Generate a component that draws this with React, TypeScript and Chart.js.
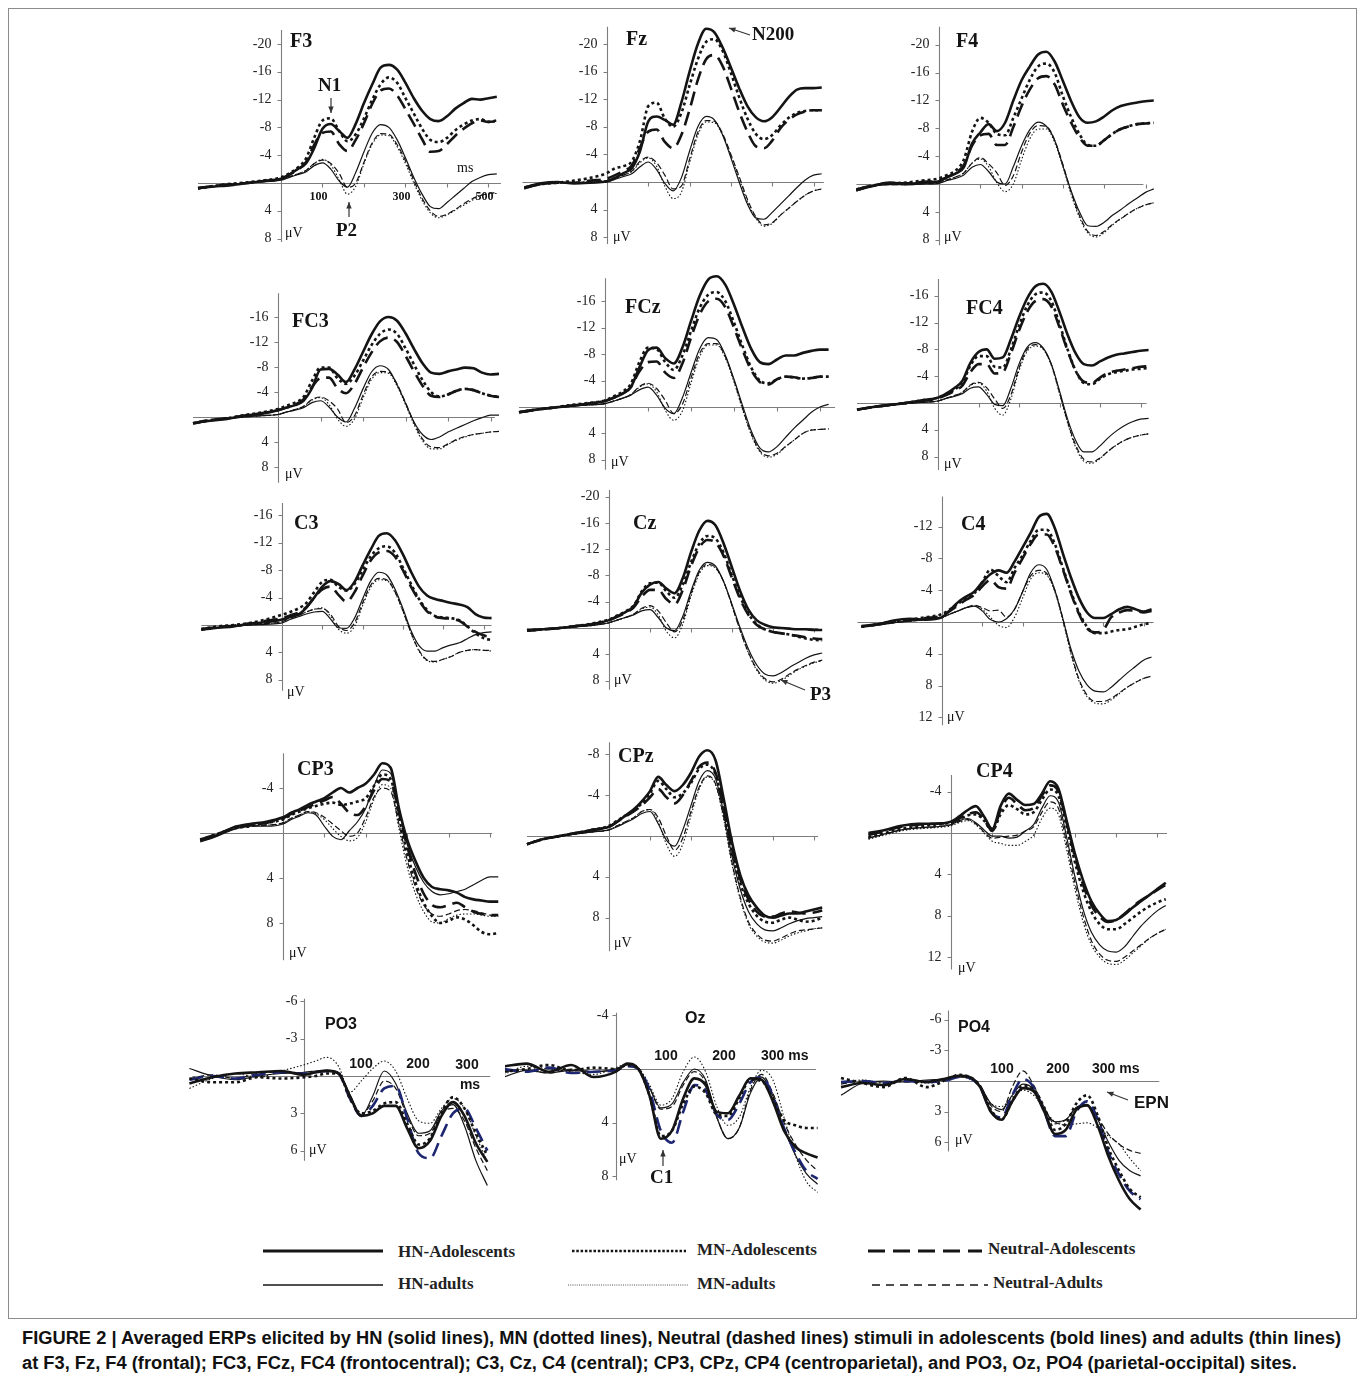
import React, { useEffect, useRef } from "react";
import { Chart, registerables } from "chart.js";

Chart.register(...registerables);

// ---------- time axes (ms) ----------
const TIME_MAIN = [-200, -160, -120, -80, -40, 0, 20, 40, 60, 80, 100, 120, 140, 160, 180, 200, 220, 240, 260, 280, 300, 320, 340, 360, 380, 400, 420, 440, 460, 480, 500, 520];
const TIME_PO3 = [-200, -160, -120, -80, -40, 0, 20, 40, 60, 80, 100, 120, 140, 160, 180, 200, 220, 240, 260, 280, 300, 320];
const TIME_OCC = [-200, -160, -120, -80, -40, 0, 20, 40, 60, 80, 100, 120, 140, 160, 180, 200, 220, 240, 260, 280, 300, 320, 340, 360];

const SERIES_NAMES = ["HN-Adolescents", "MN-Adolescents", "Neutral-Adolescents", "HN-adults", "MN-adults", "Neutral-Adults"];

// ---------- tick labels ----------
const TICKS_F = [-20, -16, -12, -8, -4, 4, 8];
const TICKS_FC = [-16, -12, -8, -4, 4, 8];
const TICKS_C4 = [-12, -8, -4, 4, 8, 12];
const TICKS_CP3 = [-4, 4, 8];
const TICKS_CPZ = [-8, -4, 4, 8];
const TICKS_CP4 = [-4, 4, 8, 12];
const TICKS_PO = [-6, -3, 3, 6];
const TICKS_OZ = [-4, 4, 8];
const XMARKS_MAIN = [100, 200, 300, 400, 500];
const XLABELS_F3 = [100, 300, 500];
const XLABELS_OCC = [100, 200, 300];

// ---------- F3 ----------
const F3_HN_ADO = [0.7, 0.5, 0.3, 0.0, -0.3, -0.6, -1.2, -2.0, -2.8, -5.0, -7.8, -8.5, -7.5, -6.5, -8.5, -11.5, -14.2, -16.6, -17.0, -16.3, -14.4, -12.2, -10.4, -9.2, -8.9, -9.6, -10.7, -11.5, -12.1, -12.0, -12.2, -12.4];
const F3_MN_ADO = [0.8, 0.4, 0.1, -0.1, -0.4, -0.8, -1.4, -2.2, -3.5, -6.5, -9.0, -9.3, -7.5, -6.0, -7.0, -9.3, -12.0, -14.2, -15.2, -14.4, -12.2, -10.0, -7.8, -6.2, -5.9, -6.5, -7.6, -8.4, -9.0, -9.2, -8.8, -9.0];
const F3_NE_ADO = [0.8, 0.4, 0.2, 0.0, -0.3, -0.6, -1.2, -1.9, -3.0, -5.5, -7.2, -7.4, -5.6, -4.6, -6.2, -8.6, -11.4, -13.3, -13.6, -12.6, -10.6, -8.5, -6.3, -4.5, -4.6, -5.6, -6.8, -7.8, -8.6, -9.0, -8.8, -8.9];
const F3_HN_ADU = [0.8, 0.5, 0.2, 0.0, -0.2, -0.4, -0.8, -1.2, -1.6, -2.5, -2.9, -2.0, -0.3, 0.6, -1.5, -4.5, -7.2, -8.4, -8.0, -6.2, -3.6, -0.8, 1.6, 3.4, 3.7, 2.8, 1.8, 0.8, -0.2, -0.8, -1.2, -1.3];
const F3_MN_ADU = [0.8, 0.5, 0.2, 0.0, -0.3, -0.5, -0.9, -1.3, -1.8, -2.8, -3.4, -2.6, -0.5, 1.6, 0.5, -2.8, -5.6, -6.9, -6.8, -5.2, -2.8, 0.0, 2.5, 4.3, 5.0, 4.6, 3.9, 3.2, 2.5, 1.8, 1.6, 1.5];
const F3_NE_ADU = [0.8, 0.5, 0.2, 0.0, -0.3, -0.5, -0.9, -1.3, -1.8, -2.8, -3.3, -2.8, -1.4, 0.6, 0.0, -3.0, -5.8, -7.1, -7.0, -5.5, -3.2, -0.4, 2.2, 4.0, 4.8, 4.5, 3.8, 3.0, 2.3, 1.8, 1.5, 1.4];

// ---------- Fz ----------
const FZ_HN_ADO = [0.8, 0.2, 0.0, 0.2, 0.1, -0.1, -0.6, -1.3, -2.0, -4.5, -8.8, -9.5, -9.0, -8.3, -11.5, -16.0, -20.0, -22.2, -21.7, -19.5, -16.6, -13.6, -11.0, -9.4, -8.8, -9.4, -10.8, -12.3, -13.4, -13.6, -13.6, -13.7];
const FZ_MN_ADO = [0.8, 0.3, 0.1, -0.2, -0.6, -1.3, -2.0, -2.3, -3.0, -6.0, -11.0, -11.5, -9.2, -8.0, -10.0, -14.0, -17.8, -20.3, -20.7, -19.0, -15.8, -12.3, -9.2, -7.0, -6.2, -6.8, -8.2, -9.3, -10.0, -10.3, -10.4, -10.4];
const FZ_NE_ADO = [0.8, 0.3, 0.1, 0.1, -0.2, -0.5, -1.0, -1.6, -2.4, -5.0, -7.3, -7.6, -5.8, -4.9, -6.8, -10.5, -14.8, -17.8, -18.4, -16.8, -13.6, -10.2, -7.3, -5.2, -4.9, -6.0, -7.8, -9.0, -9.8, -10.2, -10.4, -10.4];
const FZ_HN_ADU = [1.0, 0.4, 0.1, 0.2, 0.1, 0.0, -0.4, -0.8, -1.2, -2.2, -2.9, -1.8, 0.2, 1.3, -0.6, -4.5, -8.0, -9.5, -9.0, -6.8, -3.5, 0.0, 3.2, 5.2, 5.4, 4.4, 3.2, 2.0, 0.8, -0.3, -1.0, -1.2];
const FZ_MN_ADU = [1.0, 0.3, 0.0, 0.1, -0.1, -0.2, -0.6, -1.0, -1.5, -2.8, -3.5, -2.3, 0.6, 2.4, 1.5, -2.8, -6.8, -8.7, -8.6, -6.8, -3.8, -0.5, 2.8, 5.2, 6.4, 6.0, 4.8, 3.8, 2.8, 1.9, 1.3, 1.0];
const FZ_NE_ADU = [0.9, 0.3, 0.1, 0.1, -0.1, -0.2, -0.6, -1.0, -1.6, -3.0, -3.6, -2.8, -1.0, 1.0, 0.6, -3.3, -7.2, -8.9, -8.8, -7.0, -4.0, -0.8, 2.5, 5.0, 6.2, 5.9, 4.8, 3.8, 2.8, 1.9, 1.3, 1.0];

// ---------- F4 ----------
const F4_HN_ADO = [0.9, 0.3, -0.2, 0.0, -0.2, -0.4, -1.0, -1.5, -2.4, -5.8, -7.4, -8.6, -7.6, -8.8, -12.0, -14.9, -16.9, -18.6, -19.0, -17.6, -14.8, -11.9, -9.6, -8.8, -9.0, -9.7, -10.6, -11.2, -11.5, -11.7, -11.9, -12.0];
const F4_MN_ADO = [0.8, 0.2, -0.1, -0.2, -0.5, -0.8, -1.3, -1.9, -3.5, -7.5, -9.5, -8.8, -7.2, -7.0, -9.5, -12.3, -15.0, -16.9, -17.3, -16.0, -12.6, -9.6, -7.2, -5.6, -5.5, -6.3, -7.2, -7.9, -8.3, -8.6, -8.7, -8.8];
const F4_NE_ADO = [0.8, 0.2, -0.1, -0.1, -0.3, -0.5, -1.0, -1.6, -2.7, -5.5, -7.0, -7.2, -5.6, -5.6, -8.2, -11.2, -13.6, -15.2, -15.5, -14.3, -11.4, -8.8, -6.7, -5.5, -5.5, -6.3, -7.2, -7.9, -8.3, -8.6, -8.7, -8.8];
const F4_HN_ADU = [1.0, 0.3, 0.1, 0.1, 0.0, -0.1, -0.5, -0.8, -1.3, -2.4, -2.8, -1.8, -0.3, 0.0, -2.5, -5.5, -7.8, -8.9, -8.3, -6.3, -2.6, 1.0, 4.0, 6.0, 6.1, 5.5, 4.5, 3.7, 2.8, 2.0, 1.2, 0.7];
const F4_MN_ADU = [1.0, 0.3, 0.0, 0.1, -0.1, -0.2, -0.6, -1.0, -1.6, -3.0, -3.6, -2.5, -0.2, 1.1, 0.0, -3.5, -6.5, -7.9, -7.9, -6.0, -2.5, 1.5, 4.8, 7.0, 7.6, 7.0, 5.9, 5.0, 4.2, 3.5, 3.0, 2.7];
const F4_NE_ADU = [0.9, 0.3, 0.1, 0.1, 0.0, -0.2, -0.6, -1.0, -1.6, -3.0, -3.8, -2.9, -1.6, 0.2, -1.2, -4.6, -7.3, -8.4, -8.3, -6.3, -2.8, 1.2, 4.5, 6.8, 7.4, 6.8, 5.8, 5.0, 4.2, 3.5, 3.0, 2.7];

// ---------- FC3 ----------
const FC3_HN_ADO = [1.0, 0.6, 0.3, -0.2, -0.5, -1.1, -1.5, -1.9, -2.6, -4.6, -7.6, -7.7, -6.8, -5.6, -7.6, -10.4, -13.2, -15.3, -16.0, -15.4, -13.4, -10.9, -8.6, -7.1, -6.9, -7.3, -7.6, -7.9, -7.8, -7.1, -6.8, -6.9];
const FC3_MN_ADO = [1.0, 0.5, 0.2, -0.3, -0.7, -1.3, -1.8, -2.3, -3.2, -5.8, -7.9, -7.9, -6.2, -5.3, -6.6, -9.0, -11.5, -13.3, -14.0, -13.3, -11.0, -8.4, -5.9, -4.0, -3.3, -3.6, -4.2, -4.5, -4.3, -3.8, -3.4, -3.2];
const FC3_NE_ADO = [1.0, 0.5, 0.2, -0.2, -0.6, -1.1, -1.5, -2.0, -2.8, -4.8, -6.2, -6.3, -4.6, -3.8, -5.3, -7.9, -10.3, -12.1, -12.7, -12.0, -9.8, -7.3, -5.0, -3.4, -3.2, -3.6, -4.2, -4.5, -4.3, -3.8, -3.4, -3.2];
const FC3_HN_ADU = [1.0, 0.6, 0.3, 0.0, -0.2, -0.4, -0.8, -1.1, -1.5, -2.3, -2.6, -1.6, 0.0, 0.8, -1.4, -4.5, -7.2, -8.2, -7.6, -5.2, -2.2, 0.8, 2.8, 3.6, 3.2, 2.4, 1.8, 1.2, 0.6, 0.1, -0.3, -0.3];
const FC3_MN_ADU = [1.0, 0.6, 0.3, 0.0, -0.2, -0.4, -0.8, -1.2, -1.7, -2.7, -3.1, -2.0, 0.3, 1.5, 0.3, -3.0, -6.0, -7.1, -7.0, -5.0, -2.0, 1.2, 3.8, 5.1, 5.1, 4.4, 3.7, 3.2, 2.8, 2.6, 2.4, 2.3];
const FC3_NE_ADU = [1.0, 0.6, 0.3, 0.0, -0.2, -0.4, -0.8, -1.2, -1.7, -2.8, -3.2, -2.6, -1.3, 0.9, -0.2, -3.5, -6.4, -7.3, -7.2, -5.3, -2.3, 0.9, 3.5, 4.8, 4.9, 4.3, 3.6, 3.1, 2.8, 2.6, 2.4, 2.3];

// ---------- FCz ----------
const FCZ_HN_ADO = [0.8, 0.4, 0.1, -0.2, -0.5, -0.9, -1.4, -2.0, -3.0, -6.0, -8.6, -9.0, -7.4, -6.6, -9.0, -13.0, -16.8, -19.3, -19.8, -18.5, -15.5, -12.0, -8.8, -6.8, -6.5, -7.2, -7.8, -7.8, -8.2, -8.5, -8.7, -8.7];
const FCZ_MN_ADO = [0.8, 0.4, 0.1, -0.3, -0.6, -1.0, -1.6, -2.3, -3.5, -6.8, -9.0, -8.8, -6.8, -5.6, -7.8, -11.5, -15.0, -17.0, -17.4, -16.0, -12.8, -9.2, -6.0, -4.0, -3.6, -4.2, -4.6, -4.5, -4.3, -4.4, -4.6, -4.6];
const FCZ_NE_ADO = [0.8, 0.4, 0.1, -0.2, -0.5, -0.9, -1.4, -2.0, -3.0, -5.4, -6.8, -6.9, -5.2, -4.4, -6.6, -10.5, -14.0, -16.0, -16.4, -15.1, -12.0, -8.6, -5.6, -3.8, -3.4, -4.2, -4.6, -4.5, -4.3, -4.4, -4.6, -4.6];
const FCZ_HN_ADU = [0.8, 0.4, 0.1, -0.1, -0.3, -0.5, -0.9, -1.3, -1.8, -2.6, -3.0, -1.8, 0.2, 1.0, -1.4, -5.2, -8.8, -10.5, -10.2, -7.8, -4.2, -0.2, 3.6, 6.2, 6.8, 6.0, 4.6, 3.2, 2.0, 0.8, 0.0, -0.4];
const FCZ_MN_ADU = [0.8, 0.4, 0.1, -0.1, -0.3, -0.5, -0.9, -1.3, -1.9, -3.0, -3.5, -2.3, 0.5, 2.0, 0.6, -3.6, -7.6, -9.4, -9.4, -7.4, -3.8, 0.4, 4.2, 6.8, 7.6, 7.2, 6.0, 5.0, 4.0, 3.5, 3.4, 3.3];
const FCZ_NE_ADU = [0.8, 0.4, 0.1, -0.1, -0.3, -0.5, -0.9, -1.3, -1.9, -3.1, -3.6, -2.8, -1.0, 1.0, -0.4, -4.4, -8.1, -9.6, -9.6, -7.6, -4.0, 0.2, 4.0, 6.6, 7.4, 7.0, 6.0, 5.0, 4.0, 3.5, 3.4, 3.3];

// ---------- FC4 ----------
const FC4_HN_ADO = [1.0, 0.6, 0.3, 0.0, -0.4, -0.8, -1.4, -2.2, -3.3, -6.0, -7.6, -8.0, -6.6, -6.8, -9.5, -12.8, -15.6, -17.4, -17.8, -16.6, -13.6, -10.2, -7.4, -5.8, -5.6, -6.2, -6.8, -7.2, -7.4, -7.6, -7.8, -7.9];
const FC4_MN_ADO = [1.0, 0.6, 0.3, 0.0, -0.4, -0.8, -1.3, -2.0, -3.0, -5.6, -7.0, -7.0, -5.4, -5.3, -8.0, -11.5, -14.5, -16.2, -16.5, -15.2, -11.8, -8.0, -4.8, -3.0, -2.8, -3.6, -4.3, -4.6, -4.8, -5.0, -5.1, -5.2];
const FC4_NE_ADO = [1.0, 0.6, 0.3, 0.0, -0.3, -0.7, -1.2, -1.8, -2.6, -4.6, -5.8, -5.8, -4.4, -4.6, -7.4, -10.8, -13.6, -15.2, -15.5, -14.4, -11.3, -7.8, -4.8, -3.2, -3.0, -3.8, -4.5, -4.8, -5.0, -5.2, -5.4, -5.5];
const FC4_HN_ADU = [1.0, 0.6, 0.3, 0.1, -0.1, -0.3, -0.7, -1.0, -1.4, -2.2, -2.4, -1.3, 0.2, 0.4, -2.2, -5.8, -8.3, -9.0, -8.2, -5.8, -1.8, 2.4, 5.6, 7.3, 7.3, 6.4, 5.2, 4.2, 3.4, 2.8, 2.4, 2.3];
const FC4_MN_ADU = [1.0, 0.6, 0.3, 0.1, -0.1, -0.3, -0.7, -1.1, -1.6, -2.6, -3.0, -1.8, 0.8, 1.8, -0.6, -4.8, -7.7, -8.5, -8.0, -5.6, -1.4, 3.0, 6.6, 8.7, 9.0, 8.3, 7.2, 6.3, 5.6, 5.1, 4.8, 4.6];
const FC4_NE_ADU = [1.0, 0.6, 0.3, 0.1, -0.1, -0.3, -0.7, -1.1, -1.6, -2.7, -3.1, -2.3, -0.6, 0.8, -1.2, -5.2, -8.0, -8.7, -8.1, -5.7, -1.6, 2.8, 6.3, 8.4, 8.8, 8.2, 7.2, 6.3, 5.6, 5.1, 4.8, 4.6];

// ---------- C3 ----------
const C3_HN_ADO = [0.7, 0.4, 0.2, -0.2, -0.4, -0.8, -1.2, -1.5, -2.5, -4.0, -5.6, -6.4, -6.0, -5.1, -6.3, -8.7, -11.0, -13.0, -13.4, -12.4, -10.3, -7.8, -5.6, -4.3, -3.8, -3.5, -3.2, -3.0, -2.6, -1.6, -1.1, -1.0];
const C3_MN_ADO = [0.6, 0.2, 0.0, -0.3, -0.8, -1.5, -1.9, -2.4, -3.2, -4.8, -6.3, -6.6, -5.6, -5.0, -6.0, -8.0, -10.0, -11.2, -11.5, -10.6, -8.4, -6.0, -3.8, -2.2, -1.3, -1.1, -1.0, -0.7, 0.2, 1.2, 1.9, 2.2];
const C3_NE_ADO = [0.6, 0.3, 0.1, -0.2, -0.6, -1.0, -1.4, -1.8, -2.6, -4.0, -5.2, -5.6, -4.4, -3.4, -4.8, -7.2, -9.4, -10.6, -10.8, -10.0, -8.0, -5.6, -3.6, -2.0, -1.2, -1.0, -0.9, -0.6, 0.2, 1.0, 1.5, 1.8];
const C3_HN_ADU = [0.7, 0.4, 0.2, 0.0, -0.1, -0.3, -0.8, -1.2, -1.6, -1.9, -2.0, -0.9, 0.4, 0.5, -1.0, -3.8, -6.4, -7.7, -7.3, -5.3, -2.4, 0.8, 3.0, 3.8, 3.8, 3.3, 2.9, 2.6, 2.0, 1.4, 1.1, 1.0];
const C3_MN_ADU = [0.7, 0.4, 0.2, 0.0, -0.2, -0.5, -1.0, -1.4, -1.9, -2.3, -2.5, -1.3, 0.6, 1.2, 0.2, -2.8, -5.5, -6.6, -6.5, -4.8, -2.0, 1.2, 3.8, 5.2, 5.4, 5.0, 4.6, 4.0, 3.7, 3.6, 3.7, 3.8];
const C3_NE_ADU = [0.7, 0.4, 0.2, 0.0, -0.2, -0.5, -1.0, -1.4, -1.9, -2.3, -2.4, -1.6, 0.2, 0.8, -0.3, -3.2, -5.8, -6.8, -6.6, -4.9, -2.1, 1.1, 3.7, 5.1, 5.3, 5.0, 4.6, 4.0, 3.7, 3.6, 3.7, 3.7];

// ---------- Cz ----------
const CZ_HN_ADO = [0.4, 0.2, 0.0, -0.3, -0.6, -1.2, -1.8, -2.4, -3.3, -5.4, -6.6, -7.0, -6.0, -5.3, -7.6, -11.5, -14.8, -16.3, -15.6, -12.8, -9.2, -5.6, -2.8, -1.2, -0.5, -0.1, 0.0, 0.1, 0.2, 0.2, 0.3, 0.3];
const CZ_MN_ADO = [0.4, 0.2, 0.0, -0.3, -0.7, -1.3, -1.9, -2.5, -3.4, -5.6, -6.8, -6.9, -5.6, -4.6, -6.6, -10.0, -12.8, -14.0, -13.6, -11.4, -8.0, -4.8, -2.2, -0.6, 0.2, 0.6, 0.8, 1.0, 1.3, 1.6, 1.8, 1.9];
const CZ_NE_ADO = [0.4, 0.2, 0.0, -0.3, -0.6, -1.2, -1.7, -2.3, -3.1, -4.8, -5.8, -5.8, -4.4, -3.6, -5.8, -9.4, -12.2, -13.4, -13.0, -10.9, -7.6, -4.4, -2.0, -0.5, 0.2, 0.6, 0.8, 1.0, 1.2, 1.4, 1.6, 1.7];
const CZ_HN_ADU = [0.4, 0.2, 0.0, -0.2, -0.4, -0.8, -1.2, -1.6, -2.0, -2.6, -2.8, -1.6, 0.0, 0.4, -1.8, -5.6, -8.8, -10.0, -9.4, -7.0, -3.6, 0.0, 3.2, 5.6, 7.0, 7.3, 6.8, 6.0, 5.3, 4.6, 4.1, 3.8];
const CZ_MN_ADU = [0.4, 0.2, 0.0, -0.2, -0.4, -0.8, -1.2, -1.6, -2.1, -2.9, -3.2, -2.0, 0.5, 1.5, -0.6, -4.8, -8.2, -9.5, -9.1, -7.0, -3.4, 0.4, 3.8, 6.4, 7.9, 8.4, 8.0, 7.2, 6.4, 5.8, 5.3, 5.0];
const CZ_NE_ADU = [0.4, 0.2, 0.0, -0.2, -0.4, -0.8, -1.2, -1.6, -2.1, -3.0, -3.4, -2.6, -0.8, 0.6, -1.2, -5.2, -8.5, -9.7, -9.2, -7.0, -3.4, 0.4, 3.7, 6.2, 7.7, 8.2, 7.8, 7.0, 6.3, 5.7, 5.2, 4.9];

// ---------- C4 ----------
const C4_HN_ADO = [0.5, 0.3, -0.2, -0.4, -0.3, -0.6, -1.5, -2.5, -3.2, -3.8, -5.0, -6.0, -6.5, -6.2, -7.6, -9.4, -11.2, -13.2, -13.6, -11.8, -8.6, -5.6, -3.0, -1.2, -0.5, -0.5, -1.0, -1.6, -1.9, -1.6, -1.3, -1.6];
const C4_MN_ADO = [0.6, 0.3, -0.1, -0.3, -0.6, -1.0, -1.6, -2.3, -3.0, -3.6, -5.0, -6.6, -5.8, -5.0, -6.8, -8.4, -10.2, -11.6, -11.6, -9.8, -6.8, -3.8, -1.2, 0.6, 1.4, 1.4, 1.2, 1.0, 0.9, 0.6, 0.3, 0.1];
const C4_NE_ADO = [0.6, 0.3, -0.1, -0.3, -0.5, -0.8, -1.4, -2.1, -2.8, -3.4, -4.5, -5.3, -4.4, -4.2, -6.2, -8.0, -9.8, -11.0, -11.0, -9.4, -6.6, -3.6, -1.0, 0.8, 1.3, 1.0, -0.6, -1.2, -1.5, -1.4, -1.2, -1.4];
const C4_HN_ADU = [0.6, 0.4, 0.1, -0.1, -0.3, -0.6, -1.0, -1.4, -1.8, -2.0, -1.4, -0.3, 0.0, -0.4, -1.6, -3.8, -6.2, -7.2, -6.6, -4.0, -0.4, 3.4, 6.2, 7.9, 8.7, 8.8, 8.2, 7.3, 6.4, 5.6, 4.8, 4.4];
const C4_MN_ADU = [0.6, 0.4, 0.1, -0.1, -0.3, -0.6, -1.0, -1.4, -1.8, -2.0, -1.6, -0.6, 0.4, 0.7, -0.6, -3.0, -5.4, -6.2, -5.9, -3.8, -0.2, 4.0, 7.4, 9.4, 10.2, 10.3, 9.8, 9.0, 8.2, 7.6, 7.1, 6.8];
const C4_NE_ADU = [0.6, 0.4, 0.1, -0.1, -0.3, -0.6, -1.0, -1.4, -1.8, -2.1, -1.8, -1.4, -1.5, -0.6, -1.6, -3.8, -5.8, -6.5, -6.1, -4.0, -0.4, 3.8, 7.2, 9.2, 10.0, 10.0, 9.6, 8.9, 8.2, 7.6, 7.1, 6.8];

// ---------- CP3 ----------
const CP3_HN_ADO = [0.7, 0.2, -0.5, -0.8, -1.0, -1.4, -1.8, -2.1, -2.5, -2.8, -3.1, -3.6, -4.0, -3.6, -4.0, -4.4, -5.2, -6.2, -5.8, -2.2, 0.6, 2.5, 4.0, 4.8, 5.0, 5.1, 5.3, 5.7, 5.9, 6.0, 6.1, 6.1];
const CP3_MN_ADO = [0.6, 0.1, -0.4, -0.6, -0.9, -1.2, -1.6, -1.9, -2.2, -2.4, -2.6, -2.7, -2.5, -2.6, -2.8, -3.1, -4.2, -5.2, -4.8, -1.4, 1.8, 4.4, 6.2, 7.4, 8.0, 7.8, 7.5, 7.7, 8.2, 8.8, 9.0, 8.9];
const CP3_NE_ADO = [0.6, 0.1, -0.4, -0.7, -0.9, -1.3, -1.7, -2.0, -2.3, -2.6, -2.9, -3.2, -2.6, -1.8, -1.6, -2.4, -3.8, -4.8, -4.6, -1.8, 1.2, 3.6, 5.4, 6.4, 6.6, 6.4, 6.2, 6.6, 7.0, 7.2, 7.3, 7.3];
const CP3_HN_ADU = [0.8, 0.3, -0.3, -0.6, -0.6, -0.8, -1.2, -1.5, -1.8, -1.6, -0.6, 0.3, 0.6, -0.2, -1.0, -2.2, -4.2, -5.6, -5.3, -2.2, 1.0, 3.0, 4.4, 5.2, 5.5, 5.4, 5.2, 5.0, 4.6, 4.2, 3.9, 3.9];
const CP3_MN_ADU = [0.5, 0.1, -0.4, -0.7, -0.7, -0.9, -1.3, -1.6, -1.9, -1.7, -1.2, -0.4, 0.3, 0.7, 0.4, -1.0, -3.0, -4.3, -4.0, -0.4, 3.0, 5.4, 7.0, 7.9, 8.0, 7.6, 7.3, 7.2, 7.2, 7.3, 7.4, 7.4];
const CP3_NE_ADU = [0.6, 0.1, -0.4, -0.6, -0.7, -0.9, -1.3, -1.6, -1.9, -1.8, -1.4, -0.8, -0.2, 0.3, 0.0, -1.4, -3.2, -4.0, -3.7, -0.8, 2.4, 4.8, 6.4, 7.2, 7.4, 7.2, 6.9, 6.8, 6.9, 7.1, 7.3, 7.4];

// ---------- CPz ----------
const CPZ_HN_ADO = [0.8, 0.3, 0.0, -0.3, -0.6, -0.9, -1.4, -2.0, -2.6, -3.4, -4.4, -5.8, -5.0, -4.4, -5.0, -6.2, -7.8, -8.4, -7.4, -3.6, 0.6, 3.8, 5.8, 7.0, 7.8, 8.0, 7.8, 7.6, 7.6, 7.4, 7.2, 7.0];
const CPZ_MN_ADO = [0.8, 0.3, 0.0, -0.3, -0.6, -1.0, -1.5, -2.0, -2.5, -3.2, -4.2, -5.4, -4.6, -3.8, -4.2, -5.2, -6.6, -7.0, -6.0, -2.6, 1.4, 4.6, 6.6, 7.8, 8.4, 8.5, 8.2, 8.0, 8.2, 8.4, 8.3, 8.0];
const CPZ_NE_ADO = [0.8, 0.3, 0.0, -0.3, -0.6, -0.9, -1.4, -1.9, -2.4, -3.0, -3.8, -4.6, -3.8, -3.2, -4.0, -5.4, -6.8, -7.2, -6.2, -2.8, 1.2, 4.2, 6.2, 7.4, 7.9, 7.9, 7.6, 7.4, 7.5, 7.6, 7.5, 7.3];
const CPZ_HN_ADU = [0.8, 0.3, 0.0, -0.2, -0.4, -0.6, -0.9, -1.3, -1.7, -2.2, -2.4, -1.2, 0.4, 1.0, -0.6, -3.0, -5.4, -6.4, -5.6, -2.2, 2.0, 5.2, 7.4, 8.6, 9.2, 9.3, 9.0, 8.6, 8.3, 8.1, 8.0, 7.9];
const CPZ_MN_ADU = [0.8, 0.3, 0.0, -0.2, -0.4, -0.6, -1.0, -1.4, -1.8, -2.4, -2.6, -1.4, 0.8, 2.0, 0.8, -2.0, -4.6, -5.8, -5.0, -1.6, 2.8, 6.2, 8.6, 9.8, 10.4, 10.5, 10.2, 9.8, 9.5, 9.3, 9.1, 9.0];
const CPZ_NE_ADU = [0.8, 0.3, 0.0, -0.2, -0.4, -0.6, -1.0, -1.4, -1.8, -2.4, -2.6, -1.8, 0.0, 1.4, 0.2, -2.4, -4.8, -5.9, -5.1, -1.8, 2.6, 6.0, 8.4, 9.6, 10.2, 10.3, 10.0, 9.6, 9.3, 9.2, 9.1, 9.0];

// ---------- CP4 ----------
const CP4_HN_ADO = [0.0, -0.3, -0.7, -0.9, -0.9, -1.1, -1.6, -2.2, -2.6, -1.6, -0.4, -2.6, -3.8, -3.2, -2.7, -2.8, -3.8, -5.0, -4.3, -1.2, 2.0, 4.6, 6.6, 7.8, 8.5, 8.4, 7.9, 7.2, 6.6, 6.0, 5.4, 4.8];
const CP4_MN_ADO = [0.4, 0.0, -0.4, -0.6, -0.8, -1.0, -1.3, -1.7, -1.8, -1.2, -0.2, -1.8, -2.7, -2.3, -1.8, -2.0, -3.2, -4.2, -3.6, -0.6, 2.8, 5.6, 7.6, 8.8, 9.3, 9.3, 8.8, 8.2, 7.6, 7.1, 6.7, 6.4];
const CP4_NE_ADO = [0.2, -0.2, -0.6, -0.8, -0.9, -1.0, -1.4, -1.8, -2.0, -1.3, -0.2, -2.2, -3.4, -2.8, -2.2, -2.4, -3.6, -4.6, -4.0, -1.0, 2.3, 5.0, 7.0, 8.1, 8.6, 8.4, 7.8, 7.1, 6.5, 6.0, 5.5, 5.0];
const CP4_HN_ADU = [0.5, 0.1, -0.3, -0.5, -0.6, -0.8, -1.2, -1.4, -1.0, -0.3, 0.3, 0.3, 0.5, 0.4, -0.2, -0.8, -2.4, -3.6, -3.0, 0.4, 4.2, 7.4, 9.6, 10.8, 11.4, 11.5, 11.0, 10.0, 9.0, 8.2, 7.5, 7.0];
const CP4_MN_ADU = [0.6, 0.2, -0.2, -0.4, -0.5, -0.7, -1.0, -1.2, -0.8, 0.0, 0.8, 1.0, 1.2, 1.2, 0.8, 0.2, -1.4, -2.4, -1.8, 1.6, 5.4, 8.6, 10.8, 12.0, 12.6, 12.7, 12.3, 11.6, 10.9, 10.2, 9.7, 9.3];
const CP4_NE_ADU = [0.5, 0.1, -0.3, -0.5, -0.6, -0.8, -1.1, -1.3, -0.9, -0.1, 0.5, 0.4, 0.3, 0.2, -0.2, -0.6, -2.0, -3.0, -2.4, 1.0, 4.8, 8.0, 10.4, 11.7, 12.3, 12.4, 12.0, 11.4, 10.8, 10.2, 9.7, 9.3];

// ---------- PO3 ----------
const PO3_HN_ADO = [0.6, 0.1, -0.2, -0.3, -0.4, -0.1, -0.3, -0.4, -0.2, 1.6, 3.2, 3.0, 2.4, 2.4, 4.2, 5.8, 5.2, 3.2, 2.1, 3.2, 5.4, 6.9];
const PO3_MN_ADO = [0.2, 0.5, 0.5, 0.1, 0.2, 0.1, 0.0, -0.2, -0.2, 1.8, 3.0, 2.8, 2.2, 2.1, 3.8, 5.5, 5.0, 2.9, 1.7, 2.6, 4.6, 6.4];
const PO3_NE_ADO = [0.3, 0.0, 0.2, -0.1, -0.3, -0.2, -0.3, -0.4, -0.2, 1.8, 3.2, 2.4, 1.0, 0.8, 3.4, 6.2, 6.6, 4.8, 3.0, 2.6, 4.2, 6.0];
const PO3_HN_ADU = [-0.6, 0.0, 0.3, 0.0, -0.2, -0.3, -0.4, -0.5, -0.3, 1.5, 3.2, 1.6, -0.4, 0.6, 3.0, 4.6, 4.4, 2.8, 2.3, 4.0, 6.8, 8.8];
const PO3_MN_ADU = [1.0, 0.2, -0.2, 0.1, -0.4, -0.9, -1.2, -1.5, -0.8, 1.3, 0.4, -0.6, -1.2, -0.4, 1.8, 3.6, 3.8, 2.6, 1.8, 2.6, 4.8, 6.9];
const PO3_NE_ADU = [0.2, -0.1, 0.2, -0.2, -0.3, -0.2, -0.3, -0.4, -0.3, 1.6, 3.1, 2.0, 0.4, 1.0, 3.2, 4.8, 4.6, 3.0, 2.6, 3.6, 5.8, 7.6];

// ---------- Oz ----------
const OZ_HN_ADO = [-0.2, -0.4, 0.2, -0.3, 0.6, 0.2, -0.4, 0.0, 2.0, 5.2, 4.6, 2.2, 0.7, 1.2, 3.2, 3.3, 2.0, 0.7, 0.8, 2.4, 4.6, 5.8, 6.3, 6.6];
const OZ_MN_ADO = [0.2, 0.0, -0.3, 0.1, -0.1, 0.0, -0.3, 0.0, 2.0, 5.0, 4.6, 2.6, 1.3, 1.8, 3.4, 3.5, 2.2, 0.8, 0.9, 2.2, 3.8, 4.2, 4.4, 4.4];
const OZ_NE_ADO = [0.0, 0.2, -0.1, 0.3, 0.2, 0.1, -0.2, 0.0, 1.6, 4.6, 5.5, 3.2, 1.2, 1.6, 3.4, 3.8, 2.6, 1.0, 0.6, 2.0, 4.4, 6.2, 7.6, 8.2];
const OZ_HN_ADU = [0.6, 0.1, 0.3, 0.1, 0.2, 0.0, -0.3, 0.0, 1.4, 2.9, 2.6, 1.0, 0.0, 0.8, 3.6, 5.2, 4.4, 1.8, 0.6, 2.0, 4.4, 6.4, 7.8, 8.6];
const OZ_MN_ADU = [0.4, -0.2, 0.0, 0.2, 0.4, -0.1, -0.4, -0.1, 1.2, 2.7, 2.2, 0.2, -0.9, 0.2, 2.8, 4.2, 3.6, 1.4, 0.1, 0.8, 3.6, 6.4, 8.4, 9.2];
const OZ_NE_ADU = [0.2, 0.1, 0.3, 0.0, 0.2, 0.0, -0.3, 0.0, 1.4, 3.0, 2.8, 1.2, 0.2, 1.0, 3.6, 5.2, 4.4, 1.6, 0.4, 1.8, 4.0, 5.6, 6.8, 7.6];

// ---------- PO4 ----------
const PO4_HN_ADO = [0.6, 0.2, 0.4, -0.2, 0.1, -0.3, -0.5, -0.4, 0.6, 3.0, 3.8, 2.0, 0.7, 1.0, 3.0, 5.2, 4.8, 2.8, 2.4, 4.4, 7.4, 9.8, 11.6, 12.6];
const PO4_MN_ADO = [-0.3, 0.2, 0.6, -0.3, 0.6, -0.2, -0.6, -0.4, 0.5, 2.8, 3.8, 2.0, 0.5, 0.8, 2.6, 4.8, 4.2, 2.2, 1.4, 3.4, 6.6, 8.8, 10.6, 11.4];
const PO4_NE_ADO = [0.1, 0.0, 0.2, 0.0, 0.1, -0.1, -0.4, -0.3, 0.6, 3.0, 3.6, 1.4, -0.2, 0.6, 3.0, 5.4, 5.4, 3.0, 2.0, 3.8, 7.0, 9.2, 10.8, 11.6];
const PO4_HN_ADU = [1.4, 0.2, 0.0, 0.1, -0.1, -0.2, -0.4, -0.3, 0.5, 2.2, 2.8, 1.4, 0.3, 0.8, 2.8, 4.0, 3.8, 2.6, 2.3, 3.8, 6.0, 7.8, 8.8, 9.3];
const PO4_MN_ADU = [0.2, -0.1, 0.2, 0.0, 0.2, -0.1, -0.4, -0.2, 0.6, 2.2, 2.5, 1.6, 0.9, 1.4, 2.8, 4.0, 4.3, 4.2, 4.1, 4.6, 5.4, 6.2, 7.6, 8.8];
const PO4_NE_ADU = [0.3, 0.0, 0.1, 0.1, 0.0, -0.2, -0.5, -0.3, 0.4, 2.4, 3.0, 0.6, -1.0, 0.4, 2.6, 4.2, 3.8, 2.6, 2.4, 3.6, 5.2, 6.2, 6.8, 7.1];

// ---------- styles ----------
const INK = "#141414";
const AXIS = "#7d7d7d";
const NAVY = "#1d2670";
const SERIF = '"Liberation Serif", "Times New Roman", serif';
const SANS = '"Liberation Sans", Arial, sans-serif';
const F_TICK = `14px ${SERIF}`;
const F_TITLE = `bold 20px ${SERIF}`;
const F_ANN = `bold 19px ${SERIF}`;
const F_XLAB = `bold 12px ${SERIF}`;
const F_STITLE = `bold 16px ${SANS}`;
const F_SXLAB = `bold 14px ${SANS}`;
const F_EPN = `bold 17px ${SANS}`;

const LINE_STYLES = [
  { w: 2.6, dash: [] as number[] },
  { w: 2.6, dash: [3, 3] },
  { w: 2.6, dash: [14, 7] },
  { w: 1.2, dash: [] as number[] },
  { w: 1.1, dash: [1.5, 2] },
  { w: 1.2, dash: [6, 3] },
];

type Txt = { s: string; x: number; y: number; font: string; align?: CanvasTextAlign };
type Arrow = [number, number, number, number];
type PanelDef = {
  id: string;
  rect: { L: number; T: number; W: number; H: number };
  time: number[];
  series: number[][];
  colors?: string[];
  x0: number; ppm: number; y0: number; ppu: number;
  yTop: number; yBottom: number; xStart: number; xEnd: number;
  yTicks: number[]; xMarks: number[]; tickGap: number;
  texts: Txt[]; arrows: Arrow[];
};

const COL = [{ L: 180, W: 330 }, { L: 505, W: 335 }, { L: 840, W: 335 }];
const ROW = [{ T: 10, H: 250 }, { T: 265, H: 222 }, { T: 487, H: 245 }, { T: 737, H: 240 }, { T: 995, H: 225 }];
const rc = (c: number, r: number) => ({ L: COL[c].L, W: COL[c].W, T: ROW[r].T, H: ROW[r].H });
const BOTTOM_COLORS = [INK, INK, NAVY, INK, INK, INK];

const T = (s: string, x: number, y: number, font: string, align: CanvasTextAlign = "left"): Txt => ({ s, x, y, font, align });

const PANELS: PanelDef[] = [
  {
    id: "F3", rect: rc(0, 0), time: TIME_MAIN,
    series: [F3_HN_ADO, F3_MN_ADO, F3_NE_ADO, F3_HN_ADU, F3_MN_ADU, F3_NE_ADU],
    x0: 281, ppm: 0.415, y0: 183, ppu: 6.95, yTop: -22, yBottom: 8.5, xStart: -200, xEnd: 530,
    yTicks: TICKS_F, xMarks: XMARKS_MAIN, tickGap: 10,
    texts: [
      T("F3", 290, 42, F_TITLE), T("μV", 285, 233, F_TICK), T("N1", 318, 86, F_ANN), T("P2", 336, 231, F_ANN),
      T("ms", 457, 168, F_TICK),
      ...XLABELS_F3.map((v) => T(String(v), 281 + v * 0.415 - 4, 197, F_XLAB, "center")),
    ],
    arrows: [[331, 98, 331, 113], [349, 217, 349, 202]],
  },
  {
    id: "Fz", rect: rc(1, 0), time: TIME_MAIN,
    series: [FZ_HN_ADO, FZ_MN_ADO, FZ_NE_ADO, FZ_HN_ADU, FZ_MN_ADU, FZ_NE_ADU],
    x0: 607, ppm: 0.413, y0: 182, ppu: 6.9, yTop: -22.5, yBottom: 9, xStart: -205, xEnd: 525,
    yTicks: TICKS_F, xMarks: XMARKS_MAIN, tickGap: 10,
    texts: [T("Fz", 626, 40, F_TITLE), T("μV", 613, 237, F_TICK), T("N200", 752, 35, F_ANN)],
    arrows: [[750, 35, 729, 28]],
  },
  {
    id: "F4", rect: rc(2, 0), time: TIME_MAIN,
    series: [F4_HN_ADO, F4_MN_ADO, F4_NE_ADO, F4_HN_ADU, F4_MN_ADU, F4_NE_ADU],
    x0: 939, ppm: 0.413, y0: 184, ppu: 6.96, yTop: -22.6, yBottom: 8.8, xStart: -200, xEnd: 495,
    yTicks: TICKS_F, xMarks: XMARKS_MAIN, tickGap: 10,
    texts: [T("F4", 956, 42, F_TITLE), T("μV", 944, 237, F_TICK)],
    arrows: [],
  },
  {
    id: "FC3", rect: rc(0, 1), time: TIME_MAIN,
    series: [FC3_HN_ADO, FC3_MN_ADO, FC3_NE_ADO, FC3_HN_ADU, FC3_MN_ADU, FC3_NE_ADU],
    x0: 278, ppm: 0.425, y0: 417, ppu: 6.25, yTop: -19.8, yBottom: 10.5, xStart: -200, xEnd: 510,
    yTicks: TICKS_FC, xMarks: XMARKS_MAIN, tickGap: 10,
    texts: [T("FC3", 292, 322, F_TITLE), T("μV", 285, 474, F_TICK)],
    arrows: [],
  },
  {
    id: "FCz", rect: rc(1, 1), time: TIME_MAIN,
    series: [FCZ_HN_ADO, FCZ_MN_ADO, FCZ_NE_ADO, FCZ_HN_ADU, FCZ_MN_ADU, FCZ_NE_ADU],
    x0: 605, ppm: 0.43, y0: 407, ppu: 6.6, yTop: -19.5, yBottom: 9.5, xStart: -200, xEnd: 535,
    yTicks: TICKS_FC, xMarks: XMARKS_MAIN, tickGap: 10,
    texts: [T("FCz", 625, 308, F_TITLE), T("μV", 611, 462, F_TICK)],
    arrows: [],
  },
  {
    id: "FC4", rect: rc(2, 1), time: TIME_MAIN,
    series: [FC4_HN_ADO, FC4_MN_ADO, FC4_NE_ADO, FC4_HN_ADU, FC4_MN_ADU, FC4_NE_ADU],
    x0: 938, ppm: 0.405, y0: 403, ppu: 6.7, yTop: -18.5, yBottom: 10, xStart: -200, xEnd: 515,
    yTicks: TICKS_FC, xMarks: XMARKS_MAIN, tickGap: 10,
    texts: [T("FC4", 966, 309, F_TITLE), T("μV", 944, 464, F_TICK)],
    arrows: [],
  },
  {
    id: "C3", rect: rc(0, 2), time: TIME_MAIN,
    series: [C3_HN_ADO, C3_MN_ADO, C3_NE_ADO, C3_HN_ADU, C3_MN_ADU, C3_NE_ADU],
    x0: 282, ppm: 0.403, y0: 625, ppu: 6.85, yTop: -17.8, yBottom: 9.6, xStart: -200, xEnd: 520,
    yTicks: TICKS_FC, xMarks: XMARKS_MAIN, tickGap: 10,
    texts: [T("C3", 294, 524, F_TITLE), T("μV", 287, 692, F_TICK)],
    arrows: [],
  },
  {
    id: "Cz", rect: rc(1, 2), time: TIME_MAIN,
    series: [CZ_HN_ADO, CZ_MN_ADO, CZ_NE_ADO, CZ_HN_ADU, CZ_MN_ADU, CZ_NE_ADU],
    x0: 609, ppm: 0.41, y0: 628, ppu: 6.57, yTop: -21, yBottom: 9.4, xStart: -200, xEnd: 510,
    yTicks: TICKS_F, xMarks: XMARKS_MAIN, tickGap: 10,
    texts: [T("Cz", 633, 524, F_TITLE), T("μV", 614, 680, F_TICK), T("P3", 810, 695, F_ANN)],
    arrows: [[805, 690, 781, 680]],
  },
  {
    id: "C4", rect: rc(2, 2), time: TIME_MAIN,
    series: [C4_HN_ADO, C4_MN_ADO, C4_NE_ADO, C4_HN_ADU, C4_MN_ADU, C4_NE_ADU],
    x0: 942, ppm: 0.403, y0: 622, ppu: 7.95, yTop: -15.8, yBottom: 13, xStart: -210, xEnd: 525,
    yTicks: TICKS_C4, xMarks: XMARKS_MAIN, tickGap: 10,
    texts: [T("C4", 961, 525, F_TITLE), T("μV", 947, 717, F_TICK)],
    arrows: [],
  },
  {
    id: "CP3", rect: rc(0, 3), time: TIME_MAIN,
    series: [CP3_HN_ADO, CP3_MN_ADO, CP3_NE_ADO, CP3_HN_ADU, CP3_MN_ADU, CP3_NE_ADU],
    x0: 283, ppm: 0.414, y0: 833, ppu: 11.25, yTop: -7.1, yBottom: 11.3, xStart: -200, xEnd: 505,
    yTicks: TICKS_CP3, xMarks: XMARKS_MAIN, tickGap: 10,
    texts: [T("CP3", 297, 770, F_TITLE), T("μV", 289, 953, F_TICK)],
    arrows: [],
  },
  {
    id: "CPz", rect: rc(1, 3), time: TIME_MAIN,
    series: [CPZ_HN_ADO, CPZ_MN_ADO, CPZ_NE_ADO, CPZ_HN_ADU, CPZ_MN_ADU, CPZ_NE_ADU],
    x0: 609, ppm: 0.41, y0: 836, ppu: 10.2, yTop: -9.2, yBottom: 11.3, xStart: -200, xEnd: 510,
    yTicks: TICKS_CPZ, xMarks: XMARKS_MAIN, tickGap: 10,
    texts: [T("CPz", 618, 757, F_TITLE), T("μV", 614, 943, F_TICK)],
    arrows: [],
  },
  {
    id: "CP4", rect: rc(2, 3), time: TIME_MAIN,
    series: [CP4_HN_ADO, CP4_MN_ADO, CP4_NE_ADO, CP4_HN_ADU, CP4_MN_ADU, CP4_NE_ADU],
    x0: 951, ppm: 0.413, y0: 833, ppu: 10.35, yTop: -5.6, yBottom: 13.2, xStart: -200, xEnd: 523,
    yTicks: TICKS_CP4, xMarks: XMARKS_MAIN, tickGap: 10,
    texts: [T("CP4", 976, 772, F_TITLE), T("μV", 958, 968, F_TICK)],
    arrows: [],
  },
  {
    id: "PO3", rect: rc(0, 4), time: TIME_PO3, colors: BOTTOM_COLORS,
    series: [PO3_HN_ADO, PO3_MN_ADO, PO3_NE_ADO, PO3_HN_ADU, PO3_MN_ADU, PO3_NE_ADU],
    x0: 304, ppm: 0.573, y0: 1076, ppu: 12.45, yTop: -6.2, yBottom: 6.8, xStart: -195, xEnd: 325,
    yTicks: TICKS_PO, xMarks: [], tickGap: 7,
    texts: [
      T("PO3", 325, 1025, F_STITLE), T("μV", 309, 1150, F_TICK),
      T(String(XLABELS_OCC[0]), 361, 1064, F_SXLAB, "center"), T(String(XLABELS_OCC[1]), 418, 1064, F_SXLAB, "center"),
      T(String(XLABELS_OCC[2]), 467, 1065, F_SXLAB, "center"), T("ms", 470, 1085, F_SXLAB, "center"),
    ],
    arrows: [],
  },
  {
    id: "Oz", rect: rc(1, 4), time: TIME_OCC, colors: BOTTOM_COLORS,
    series: [OZ_HN_ADO, OZ_MN_ADO, OZ_NE_ADO, OZ_HN_ADU, OZ_MN_ADU, OZ_NE_ADU],
    x0: 616, ppm: 0.56, y0: 1069, ppu: 13.4, yTop: -4.2, yBottom: 8.3, xStart: -193, xEnd: 357,
    yTicks: TICKS_OZ, xMarks: [], tickGap: 8,
    texts: [
      T("Oz", 685, 1019, F_STITLE), T("μV", 619, 1159, F_TICK), T("C1", 650, 1178, F_ANN),
      T(String(XLABELS_OCC[0]), 666, 1056, F_SXLAB, "center"), T(String(XLABELS_OCC[1]), 724, 1056, F_SXLAB, "center"),
      T(String(XLABELS_OCC[2]) + " ms", 761, 1056, F_SXLAB, "left"),
    ],
    arrows: [[663, 1166, 663, 1150]],
  },
  {
    id: "PO4", rect: rc(2, 4), time: TIME_OCC, colors: BOTTOM_COLORS,
    series: [PO4_HN_ADO, PO4_MN_ADO, PO4_NE_ADO, PO4_HN_ADU, PO4_MN_ADU, PO4_NE_ADU],
    x0: 948, ppm: 0.535, y0: 1081, ppu: 10.2, yTop: -6.9, yBottom: 6.9, xStart: -198, xEnd: 395,
    yTicks: TICKS_PO, xMarks: [], tickGap: 7,
    texts: [
      T("PO4", 958, 1028, F_STITLE), T("μV", 955, 1140, F_TICK), T("EPN", 1134, 1103, F_EPN),
      T(String(XLABELS_OCC[0]), 1002, 1069, F_SXLAB, "center"), T(String(XLABELS_OCC[1]), 1058, 1069, F_SXLAB, "center"),
      T(String(XLABELS_OCC[2]) + " ms", 1092, 1069, F_SXLAB, "left"),
    ],
    arrows: [[1128, 1100, 1107, 1092]],
  },
];

function makeDecor(p: PanelDef) {
  const { L, T: top } = p.rect;
  return {
    id: "decor" + p.id,
    beforeDatasetsDraw(chart: any) {
      const ctx: CanvasRenderingContext2D = chart.ctx;
      const xs = chart.scales.x;
      const ys = chart.scales.y;
      const X = (t: number) => xs.getPixelForValue(t);
      const Y = (v: number) => ys.getPixelForValue(v);
      const ax = Math.round(X(0)) + 0.5;
      const ay = Math.round(Y(0)) + 0.5;
      ctx.save();
      ctx.strokeStyle = AXIS;
      ctx.lineWidth = 1.1;
      ctx.beginPath();
      ctx.moveTo(ax, Y(p.yTop));
      ctx.lineTo(ax, Y(p.yBottom));
      ctx.moveTo(X(p.xStart), ay);
      ctx.lineTo(X(p.xEnd), ay);
      for (const v of p.yTicks) {
        const y = Math.round(Y(v)) + 0.5;
        ctx.moveTo(ax - 4, y);
        ctx.lineTo(ax, y);
      }
      for (const t of p.xMarks) {
        const x = Math.round(X(t)) + 0.5;
        ctx.moveTo(x, ay);
        ctx.lineTo(x, ay + 4);
      }
      ctx.stroke();
      ctx.fillStyle = "#222";
      ctx.font = F_TICK;
      ctx.textAlign = "right";
      ctx.textBaseline = "middle";
      for (const v of p.yTicks) ctx.fillText(String(v), ax - p.tickGap, Y(v));
      ctx.restore();
    },
    afterDatasetsDraw(chart: any) {
      const ctx: CanvasRenderingContext2D = chart.ctx;
      ctx.save();
      ctx.fillStyle = INK;
      ctx.textBaseline = "middle";
      for (const t of p.texts) {
        ctx.font = t.font;
        ctx.textAlign = t.align || "left";
        ctx.fillText(t.s, t.x - L, t.y - top);
      }
      ctx.strokeStyle = "#333";
      ctx.fillStyle = "#333";
      ctx.lineWidth = 1.2;
      for (const [x1, y1, x2, y2] of p.arrows) {
        const a = Math.atan2(y2 - y1, x2 - x1);
        const bx = x2 - L, by = y2 - top;
        ctx.beginPath();
        ctx.moveTo(x1 - L, y1 - top);
        ctx.lineTo(bx, by);
        ctx.stroke();
        ctx.beginPath();
        ctx.moveTo(bx, by);
        ctx.lineTo(bx - 7 * Math.cos(a - 0.4), by - 7 * Math.sin(a - 0.4));
        ctx.lineTo(bx - 7 * Math.cos(a + 0.4), by - 7 * Math.sin(a + 0.4));
        ctx.closePath();
        ctx.fill();
      }
      ctx.restore();
    },
  };
}

function Panel({ p }: { p: PanelDef }) {
  const ref = useRef<HTMLCanvasElement>(null);
  const { L, T: top, W, H } = p.rect;
  useEffect(() => {
    const canvas = ref.current;
    if (!canvas) return;
    const chart = new Chart(canvas, {
      type: "line",
      data: {
        datasets: p.series.map((vals, i) => ({
          label: SERIES_NAMES[i],
          data: p.time.map((t, k) => ({ x: t, y: vals[k] })),
          borderColor: p.colors ? p.colors[i] : INK,
          backgroundColor: "transparent",
          borderWidth: LINE_STYLES[i].w,
          borderDash: LINE_STYLES[i].dash,
          borderCapStyle: "butt",
          borderJoinStyle: "round",
          pointRadius: 0,
          fill: false,
          cubicInterpolationMode: "monotone",
        })) as any,
      },
      options: {
        responsive: false,
        maintainAspectRatio: false,
        animation: false,
        devicePixelRatio: 1,
        events: [],
        layout: { padding: 0 },
        plugins: { legend: { display: false }, tooltip: { enabled: false } },
        scales: {
          x: { type: "linear", display: false, min: (L - p.x0) / p.ppm, max: (L + W - p.x0) / p.ppm },
          y: { type: "linear", display: false, reverse: true, min: (top - p.y0) / p.ppu, max: (top + H - p.y0) / p.ppu },
        },
      } as any,
      plugins: [makeDecor(p)],
    });
    return () => chart.destroy();
  }, [p]);
  return (
    <canvas
      ref={ref}
      width={W}
      height={H}
      style={{ position: "absolute", left: L, top: top, width: W, height: H }}
    />
  );
}

const LEGEND_ITEMS = [
  { name: SERIES_NAMES[0], x1: 263, x2: 383, y: 1251, w: 3, dash: "", tx: 398, ty: 1253, color: INK },
  { name: SERIES_NAMES[1], x1: 572, x2: 686, y: 1251, w: 2.6, dash: "2.5 1.8", tx: 697, ty: 1251, color: INK },
  { name: SERIES_NAMES[2], x1: 868, x2: 982, y: 1251, w: 3, dash: "17 8", tx: 988, ty: 1250, color: INK },
  { name: SERIES_NAMES[3], x1: 263, x2: 383, y: 1285, w: 1.4, dash: "", tx: 398, ty: 1285, color: INK },
  { name: SERIES_NAMES[4], x1: 568, x2: 688, y: 1285, w: 1, dash: "1 1.2", tx: 697, ty: 1285, color: "#555" },
  { name: SERIES_NAMES[5], x1: 872, x2: 988, y: 1285, w: 1.5, dash: "8 6", tx: 993, ty: 1284, color: INK },
];

function Legend() {
  return (
    <>
      <svg style={{ position: "absolute", left: 0, top: 1230 }} width={1360} height={70}>
        {LEGEND_ITEMS.map((it) => (
          <line key={it.name} x1={it.x1} x2={it.x2} y1={it.y - 1230} y2={it.y - 1230} stroke={it.color} strokeWidth={it.w} strokeDasharray={it.dash || undefined} />
        ))}
      </svg>
      {LEGEND_ITEMS.map((it) => (
        <div
          key={"t" + it.name}
          style={{
            position: "absolute", left: it.tx, top: it.ty - 11, height: 22, lineHeight: "22px",
            font: `bold 17px ${SERIF}`, color: "#222", whiteSpace: "nowrap",
          }}
        >
          {it.name}
        </div>
      ))}
    </>
  );
}

const CAPTION_1 = "FIGURE 2 | Averaged ERPs elicited by HN (solid lines), MN (dotted lines), Neutral (dashed lines) stimuli in adolescents (bold lines) and adults (thin lines)";
const CAPTION_2 = "at F3, Fz, F4 (frontal); FC3, FCz, FC4 (frontocentral); C3, Cz, C4 (central); CP3, CPz, CP4 (centroparietal), and PO3, Oz, PO4 (parietal-occipital) sites.";

export default function App() {
  return (
    <div style={{ position: "absolute", left: 0, top: 0, width: 1360, height: 1380, background: "#fff", overflow: "hidden" }}>
      <div style={{ position: "absolute", left: 8, top: 8, width: 1349, height: 1311, border: "1px solid #8c8c8c", boxSizing: "border-box" }} />
      {PANELS.map((p) => (
        <Panel key={p.id} p={p} />
      ))}
      <Legend />
      <div style={{ position: "absolute", left: 22, top: 1325, font: `bold 18.3px ${SANS}`, color: "#111", whiteSpace: "nowrap", lineHeight: "25px" }}>
        <div>{CAPTION_1}</div>
        <div>{CAPTION_2}</div>
      </div>
    </div>
  );
}
